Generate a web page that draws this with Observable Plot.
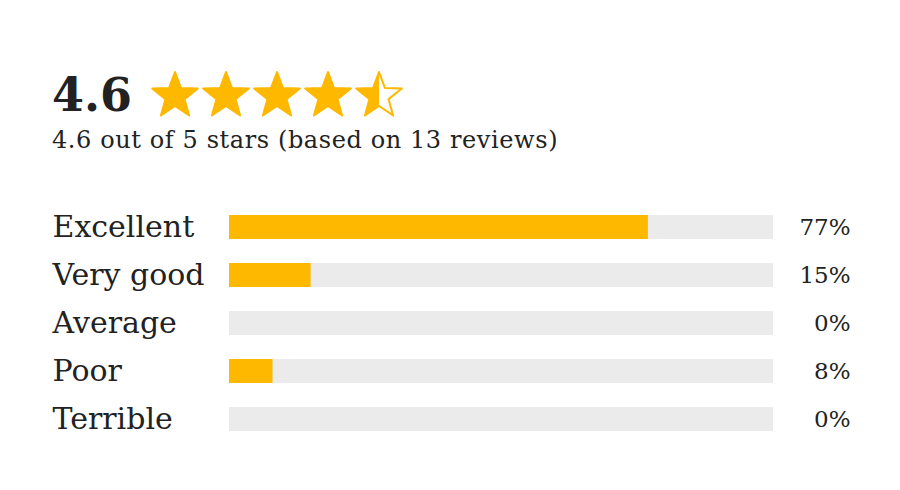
<!DOCTYPE html>
<html>
<head>
<meta charset="utf-8">
<script src="https://cdn.jsdelivr.net/npm/d3@7"></script>
<script src="https://cdn.jsdelivr.net/npm/@observablehq/plot@0.6"></script>
<style>
  body { margin: 0; background: #fff; font-family: "DejaVu Serif", serif; color: #222; }
  #head { position: absolute; left: 52px; top: 68px; }
  #score { font-size: 46px; font-weight: bold; display: inline-block; vertical-align: middle; }
  #stars { display: inline-block; vertical-align: middle; margin-left: 18px; }
  #sub { font-size: 24px; margin-top: 4px; letter-spacing: 0.6px; }
  #chart { position: absolute; left: 0; top: 180px; }
</style>
</head>
<body>
<div id="head">
  <span id="score"></span><svg id="stars" width="260" height="52"></svg>
  <div id="sub"></div>
</div>
<div id="chart"></div>
<script>
const rating = 4.6
const reviews = 13
const labels = ["Excellent", "Very good", "Average", "Poor", "Terrible"]
const percents = [77, 15, 0, 8, 0]
const gold = "#ffb800"

d3.select("#score").text(rating)
d3.select("#sub").text(`${rating} out of 5 stars (based on ${reviews} reviews)`)

// stars
const svg = d3.select("#stars")
const pts = d3.range(10).map(i => {
  const a = -Math.PI / 2 + i * Math.PI / 5, r = i % 2 ? 10 : 24
  return [25 + r * Math.cos(a), 27 + r * Math.sin(a)]
}).map(p => p.join(",")).join(" ")
const grad = svg.append("defs").append("linearGradient").attr("id", "half")
grad.append("stop").attr("offset", "50%").attr("stop-color", gold)
grad.append("stop").attr("offset", "50%").attr("stop-color", "#fff")
d3.range(5).forEach(i => {
  const full = i + 1 <= rating
  svg.append("polygon").attr("points", pts)
    .attr("transform", `translate(${i * 51},0)`)
    .attr("fill", full ? gold : "url(#half)")
    .attr("stroke", gold).attr("stroke-width", 2).attr("stroke-linejoin", "round")
})

const rows = labels.map((l, i) => ({label: l, pct: percents[i]}))

const chart = Plot.plot({
  width: 900,
  height: 290,
  marginLeft: 0, marginRight: 0, marginTop: 0, marginBottom: 0,
  x: {domain: [0, 100], range: [229, 773], axis: null},
  y: {domain: labels, range: [11, 275], padding: 0.5, axis: null},
  style: {fontFamily: "DejaVu Serif, serif", color: "#222"},
  marks: [
    Plot.barX(rows, {y: "label", x1: 0, x2: 100, fill: "#ebebeb"}),
    Plot.barX(rows, {y: "label", x1: 0, x2: "pct", fill: gold}),
    Plot.text(rows, {y: "label", text: "label", frameAnchor: "left", dx: 52, textAnchor: "start", fontSize: 30, fill: "#222"}),
    Plot.text(rows, {y: "label", text: d => d.pct + "%", frameAnchor: "right", dx: -50, textAnchor: "end", fontSize: 23, fill: "#222"})
  ]
})
d3.select("#chart").append(() => chart)
</script>
</body>
</html>
